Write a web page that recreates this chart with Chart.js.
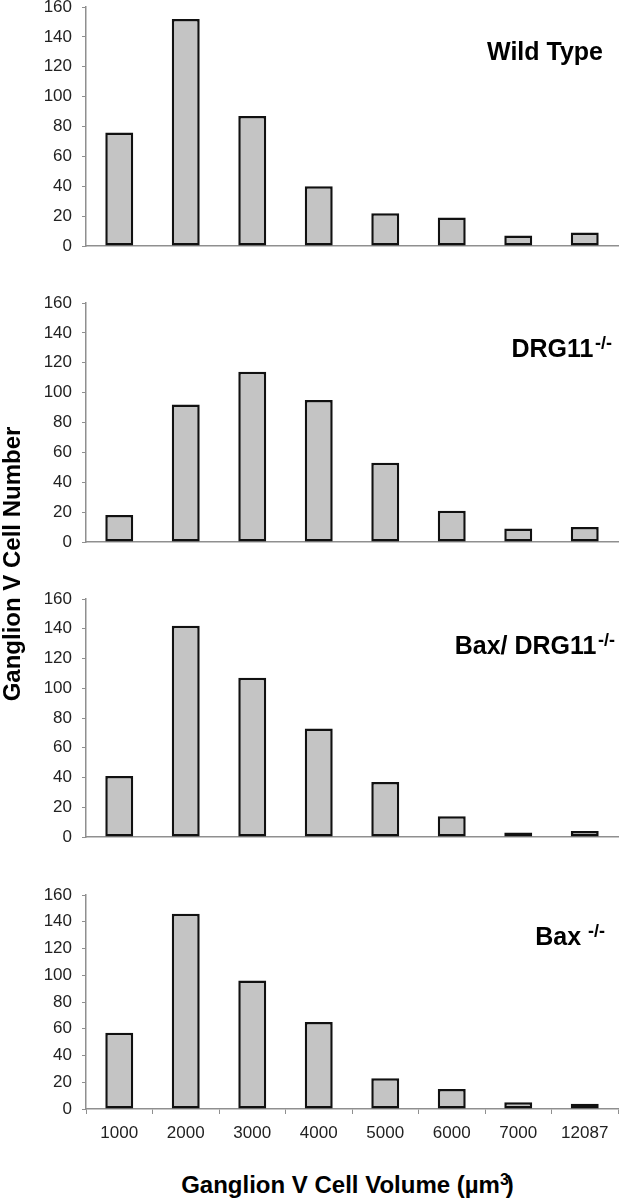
<!DOCTYPE html>
<html>
<head>
<meta charset="utf-8">
<script src="https://cdn.jsdelivr.net/npm/chart.js@4.4.1/dist/chart.umd.min.js"></script>
<style>
  html, body { margin: 0; padding: 0; background: #fff; }
  body { width: 640px; height: 1199px; position: relative; overflow: hidden; font-family: 'Liberation Sans', Arial, sans-serif; }
  .panel { position: absolute; left: 0; width: 640px; }
  .ptitle { position: absolute; font-weight: bold; font-size: 25px; line-height: 25px; color: #000; white-space: nowrap; text-align: right; }
  .ptitle .sup { font-size: 18px; position: relative; top: -8px; }
  #ytitle { position: absolute; left: -188px; top: 552px; width: 400px; height: 24px; line-height: 24px; text-align: center; font-weight: bold; font-size: 24px; color: #000; transform: rotate(-90deg); white-space: nowrap; }
  #xtitle { position: absolute; left: 0; top: 1173px; width: 695px; line-height: 24px; text-align: center; font-weight: bold; font-size: 24px; color: #000; white-space: nowrap; }
  #xtitle .sup { font-size: 16px; position: relative; top: -8px; margin-right: -3px; }
</style>
</head>
<body>
<div class="panel" style="top:-17px;height:287px"><canvas id="c1" width="640" height="287"></canvas></div>
<div class="panel" style="top:279px;height:287px"><canvas id="c2" width="640" height="287"></canvas></div>
<div class="panel" style="top:575px;height:286px"><canvas id="c3" width="640" height="286"></canvas></div>
<div class="panel" style="top:871px;height:278px"><canvas id="c4" width="640" height="278"></canvas></div>

<div class="ptitle" style="right:37px;top:39px">Wild Type</div>
<div class="ptitle" style="right:28px;top:336px">DRG11<span class="sup">&#8202;-/-</span></div>
<div class="ptitle" style="right:25px;top:633px">Bax/ DRG11<span class="sup">&#8202;-/-</span></div>
<div class="ptitle" style="right:35px;top:924px">Bax <span class="sup">-/-</span></div>

<div id="ytitle">Ganglion V Cell Number</div>
<div id="xtitle">Ganglion V Cell Volume (µm<span class="sup">3</span>)</div>

<script>
// ---- data ----
const categories = ['1000', '2000', '3000', '4000', '5000', '6000', '7000', '12087'];
const wildType  = [76, 152, 87, 40, 22, 19, 7, 9];
const drg11     = [18, 92, 114, 95, 53, 21, 9, 10];
const baxDrg11  = [41, 142, 107, 73, 37, 14, 3, 4];
const bax       = [57, 146, 96, 65, 23, 15, 5, 4];
const yMin = 0, yMax = 160, yStep = 20;

// ---- styles ----
const AXIS = '#8f8f8f';
const TICK_TXT = '#222';
const FONT = "'Liberation Sans', Arial, sans-serif";

function makeChart(id, values, showX) {
  const ctx = document.getElementById(id);
  return new Chart(ctx, {
    type: 'bar',
    data: {
      labels: categories,
      datasets: [{
        data: values,
        backgroundColor: '#c4c4c4',
        borderColor: '#111',
        borderWidth: 2.5,
        borderSkipped: false,
        barPercentage: 0.42,
        categoryPercentage: 1.0
      }]
    },
    options: {
      responsive: false,
      animation: false,
      devicePixelRatio: 1,
      layout: { padding: { left: 0, right: 22, top: 24, bottom: showX ? 0 : 24 } },
      plugins: { legend: { display: false }, tooltip: { enabled: false }, title: { display: false } },
      scales: {
        x: {
          type: 'category',
          offset: true,
          grid: {
            display: showX,
            offset: true,
            drawOnChartArea: false,
            drawTicks: true,
            tickLength: 5,
            color: AXIS,
            lineWidth: 1
          },
          border: { display: true, color: AXIS, width: 1.5 },
          ticks: {
            display: showX,
            color: TICK_TXT,
            font: { family: FONT, size: 17 },
            padding: 9,
            maxRotation: 0,
            autoSkip: false
          },
          afterFit: function(scale) { scale.height = showX ? 40 : 0; }
        },
        y: {
          min: yMin,
          max: yMax,
          ticks: {
            stepSize: yStep,
            color: TICK_TXT,
            font: { family: FONT, size: 17 },
            padding: 10
          },
          grid: {
            display: true,
            drawOnChartArea: false,
            drawTicks: true,
            tickLength: 4,
            color: AXIS,
            lineWidth: 1
          },
          border: { display: true, color: AXIS, width: 1.5 },
          afterFit: function(scale) { scale.width = 86; }
        }
      }
    }
  });
}

makeChart('c1', wildType, false);
makeChart('c2', drg11, false);
makeChart('c3', baxDrg11, false);
makeChart('c4', bax, true);
</script>
</body>
</html>
